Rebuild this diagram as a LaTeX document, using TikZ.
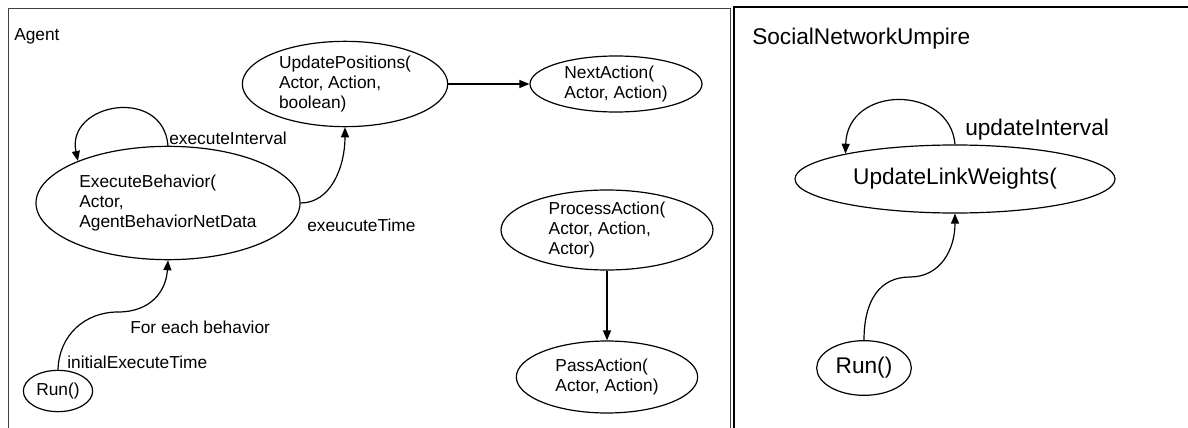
\documentclass[tikz,border=0pt]{standalone}
\usepackage{fontspec}
\setmainfont{Liberation Sans}
\usetikzlibrary{shapes.geometric,arrows.meta}

\tikzset{
	state/.style={draw, ellipse, line width=0.9pt, inner sep=0pt, align=left, font=\fontsize{13}{15}\selectfont},
	bigstate/.style={draw, ellipse, line width=0.9pt, inner sep=0pt, align=left, font=\fontsize{17}{20}\selectfont},
	lbl/.style={inner sep=0pt, anchor=west, font=\fontsize{13}{15}\selectfont},
	biglbl/.style={inner sep=0pt, anchor=west, font=\fontsize{17}{20}\selectfont},
	trans/.style={-{Triangle[length=7.5pt,width=6pt]}, line width=0.9pt}
}

\begin{document}
\begin{tikzpicture}[x=0.75pt, y=-0.75pt]
	\useasboundingbox (0,0) rectangle (1188,428);
	%frames
	\draw[black!75, line width=0.75pt] (8,440) -- (8,9) -- (730,9) -- (730,440);
	\draw[line width=1.5pt] (734,440) -- (734,7) -- (1200,7);
	\node[lbl] (agent) at (14,36) {Agent};
	\node[biglbl] (umpire) at (752,39) {SocialNetworkUmpire};
	%agent states
	\node[state, minimum width=154pt, minimum height=64pt] (upd) at (345,84) {UpdatePositions(\\Actor, Action,\\boolean)};
	\node[state, minimum width=129pt, minimum height=42pt] (next) at (616,84) {NextAction(\\Actor, Action)};
	\node[state, minimum width=198pt, minimum height=85pt] (exec) at (168,203) {ExecuteBehavior(\\Actor,\\AgentBehaviorNetData};
	\node[state, minimum width=52pt, minimum height=31pt] (runa) at (58,391) {Run()};
	\node[state, minimum width=159pt, minimum height=60pt] (proc) at (607,230) {ProcessAction(\\Actor, Action,\\Actor)};
	\node[state, minimum width=136pt, minimum height=54pt] (pass) at (607,377) {PassAction(\\Actor, Action)};
	%agent transitions
	\draw[trans] (upd.east) -- (next.west);
	\draw[trans] (exec.north) .. controls +(-5,-60) and +(-12,-58) .. (exec.155);
	\draw[trans] (exec.east) .. controls +(30,0) and +(0,40) .. (upd.south);
	\draw[trans] (runa.north) .. controls (59,335) and (85,312) .. (118,312)
		.. controls (150,312) and (166,292) .. (exec.south);
	\draw[trans] (proc.south) -- (pass.north);
	\node[lbl] (intv) at (169,138) {executeInterval};
	\node[lbl] (etime) at (307,225) {exeucuteTime};
	\node[lbl] (each) at (130,327) {For each behavior};
	\node[lbl] (init) at (67,362) {initialExecuteTime};
	%umpire states
	\node[bigstate, minimum width=240pt, minimum height=51pt] (ulw) at (955,179) {UpdateLinkWeights(};
	\node[bigstate, minimum width=71pt, minimum height=41pt] (runb) at (864,368) {Run()};
	%umpire transitions
	\draw[trans] (ulw.north) .. controls +(-5,-60) and +(2,-69) .. (ulw.167);
	\draw[trans] (runb.north) .. controls (864,300) and (880,277) .. (910,277)
		.. controls (940,277) and (955,250) .. (ulw.south);
	\node[biglbl] (uintv) at (965,130) {updateInterval};
\end{tikzpicture}
\end{document}
